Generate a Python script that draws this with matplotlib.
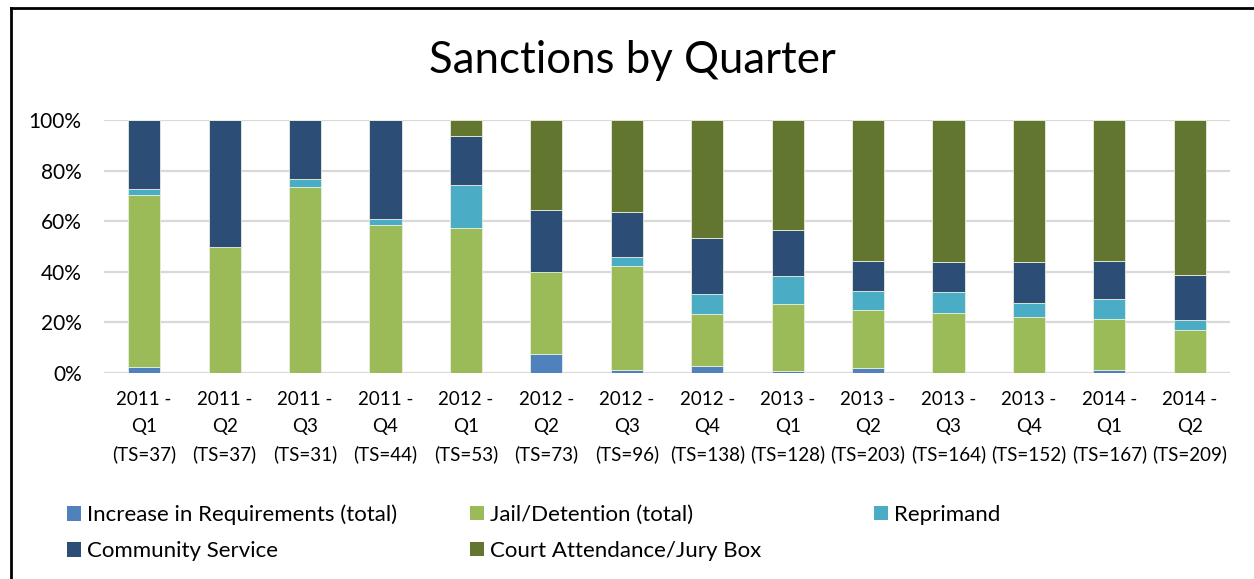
import numpy as np
import matplotlib
matplotlib.use("Agg")
import matplotlib.pyplot as plt
from matplotlib.patches import Patch
from matplotlib.lines import Line2D

plt.rcParams['font.family'] = ['Lato', 'DejaVu Sans']

# Data (percent of total sanctions per quarter)
quarters = ["2011 -\nQ1\n(TS=37)", "2011 -\nQ2\n(TS=37)", "2011 -\nQ3\n(TS=31)", "2011 -\nQ4\n(TS=44)",
            "2012 -\nQ1\n(TS=53)", "2012 -\nQ2\n(TS=73)", "2012 -\nQ3\n(TS=96)", "2012 -\nQ4\n(TS=138)",
            "2013 -\nQ1\n(TS=128)", "2013 -\nQ2\n(TS=203)", "2013 -\nQ3\n(TS=164)", "2013 -\nQ4\n(TS=152)",
            "2014 -\nQ1\n(TS=167)", "2014 -\nQ2\n(TS=209)"]
increase = [2.4, 0, 0, 0, 0, 7.5, 1.1, 2.8, 0.7, 2.0, 0, 0, 1.1, 0]
jail = [67.9, 50.0, 73.4, 58.4, 57.5, 32.3, 41.0, 20.7, 26.4, 22.9, 23.7, 22.2, 20.2, 17.0]
reprimand = [2.5, 0, 3.3, 2.5, 16.8, 0, 3.7, 7.9, 11.2, 7.4, 8.2, 5.5, 7.9, 3.8]
community = [27.2, 50.0, 23.3, 39.1, 19.2, 24.7, 17.9, 22.0, 18.4, 11.8, 12.0, 16.1, 15.1, 18.1]
court = [0, 0, 0, 0, 6.5, 35.5, 36.3, 46.6, 43.3, 55.9, 56.1, 56.2, 55.7, 61.1]

series = [
    ("Increase in Requirements (total)", increase, "#4F81BD"),
    ("Jail/Detention (total)", jail, "#9BBB59"),
    ("Reprimand", reprimand, "#4BACC6"),
    ("Community Service", community, "#2C4D75"),
    ("Court Attendance/Jury Box", court, "#63762F"),
]

fig = plt.figure(figsize=(12.54, 5.79), dpi=100)
ax = fig.add_axes([0.0829, 0.3558, 0.898, 0.4369])

x = np.arange(len(quarters))
bottom = np.zeros(len(quarters))
for name, vals, color in series:
    vals = np.array(vals, dtype=float)
    ax.bar(x, vals, 0.4, bottom=bottom, color=color, edgecolor="#E8EEDD", linewidth=0.6, zorder=3)
    bottom += vals

ax.set_xlim(-0.5, 13.5)
ax.set_ylim(0, 100)
ax.set_yticks(np.arange(0, 101, 20))
ax.set_yticklabels([f"{v}%" for v in range(0, 101, 20)], fontsize=15)
ax.set_xticks(x)
ax.set_xticklabels(quarters, fontsize=13.5, linespacing=1.7)
ax.tick_params(axis='x', length=0, pad=13)
ax.tick_params(axis='y', length=0, pad=16)
ax.grid(axis='y', color="#D9D9D9", linewidth=1.6, zorder=0)
for s in ax.spines.values():
    s.set_visible(False)

fig.text(0.504, 0.896, "Sanctions by Quarter", ha='center', va='center', fontsize=31.5)

# legend laid out in three equal columns like the original
cols = [[0, 3], [1, 4], [2]]
col_x = [0.0534, 0.375, 0.697]
for cx, idx in zip(col_x, cols):
    handles = [Patch(facecolor=series[i][2]) for i in idx]
    labels = [series[i][0] for i in idx]
    fig.legend(handles, labels, loc='upper left', bbox_to_anchor=(cx, 0.128), frameon=False,
               fontsize=16, handlelength=0.63, handleheight=0.63, handletextpad=0.27,
               labelspacing=0.72, borderaxespad=0, borderpad=0)

# outer frame (top and left edges visible)
fig.add_artist(Line2D([11 / 1254, 1], [1 - 8 / 579, 1 - 8 / 579], color='black', lw=2, transform=fig.transFigure))
fig.add_artist(Line2D([11 / 1254, 11 / 1254], [0, 1 - 8 / 579], color='black', lw=2, transform=fig.transFigure))

fig.savefig("out.png", dpi=100)
